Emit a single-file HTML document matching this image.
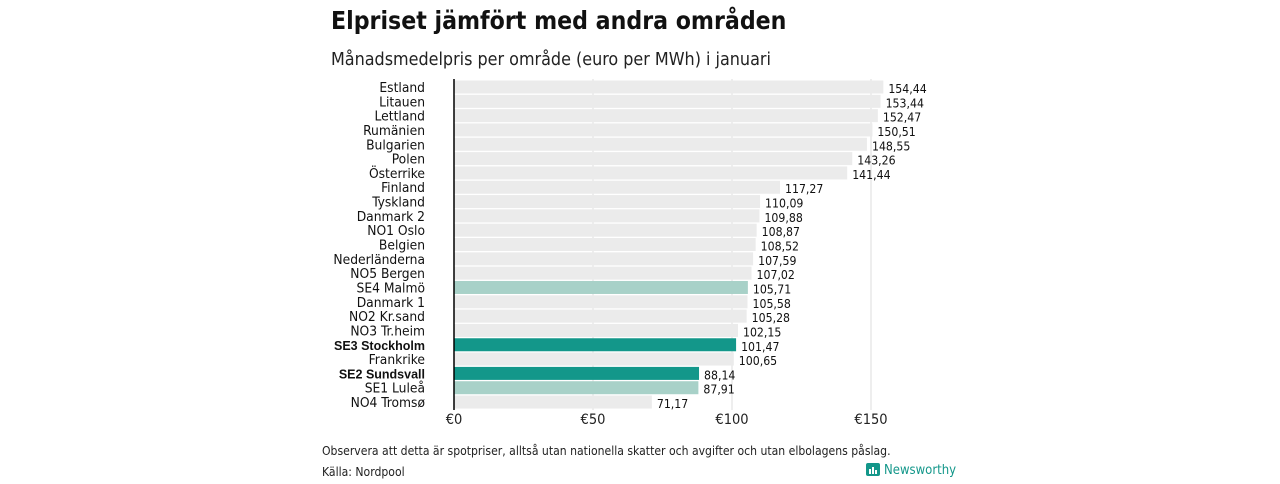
<!DOCTYPE html>
<html><head><meta charset="utf-8"><style>
body{margin:0;background:#fff;font-family:"DejaVu Sans","Liberation Sans",sans-serif;}
svg text{font-family:"DejaVu Sans Condensed","DejaVu Sans","Liberation Sans",sans-serif;}
</style></head><body>
<svg id="c" width="1280" height="480">
<text x="331" y="29" font-size="24.6" font-weight="bold" fill="#111" style="font-family:'DejaVu Sans Condensed','DejaVu Sans',sans-serif">Elpriset jämfört med andra områden</text>
<text x="331" y="65" font-size="17.8" fill="#222">Månadsmedelpris per område (euro per MWh) i januari</text>
<g id="grid"></g><g id="bars"></g>
<text x="322" y="455" font-size="12.1" fill="#222">Observera att detta är spotpriser, alltså utan nationella skatter och avgifter och utan elbolagens påslag.</text>
<text x="322" y="476" font-size="12.1" fill="#222">Källa: Nordpool</text>
<g>
<rect x="866" y="463" width="14" height="13" rx="2" fill="#13978a"/>
<rect x="869" y="469" width="2" height="5" fill="#fff"/><rect x="872" y="467" width="2" height="7" fill="#fff"/><rect x="875" y="470" width="2" height="4" fill="#fff"/>
<text x="884" y="474" font-size="13" fill="#13978a">Newsworthy</text></g>
</svg>
<script>
const categories=["Estland","Litauen","Lettland","Rumänien","Bulgarien","Polen","Österrike","Finland","Tyskland","Danmark  2","NO1 Oslo","Belgien","Nederländerna","NO5 Bergen","SE4  Malmö","Danmark  1","NO2 Kr.sand","NO3 Tr.heim","SE3 Stockholm","Frankrike","SE2 Sundsvall","SE1  Luleå","NO4 Tromsø"];
const values=[154.44,153.44,152.47,150.51,148.55,143.26,141.44,117.27,110.09,109.88,108.87,108.52,107.59,107.02,105.71,105.58,105.28,102.15,101.47,100.65,88.14,87.91,71.17];
const highlight=["","","","","","","","","","","","","","","light","","","","dark","","dark","light",""];
const ticks=[0,50,100,150];
const tickLabels=["€0","€50","€100","€150"];
const NS="http://www.w3.org/2000/svg";
const x=v=>454+v*2.78, y=i=>87+i*14.32;
function mk(t,a,p){const e=document.createElementNS(NS,t);for(const k in a)e.setAttribute(k,a[k]);p.appendChild(e);return e;}
const g=document.getElementById('grid'),b=document.getElementById('bars');
ticks.forEach((t,i)=>{
 if(t>0){const l=mk('line',{x1:x(t),x2:x(t),y1:79,y2:410,stroke:'#ddd','stroke-width':1},g);
 
 }
 const tx=mk('text',{x:x(t),y:424,'font-size':14.5,'text-anchor':'middle',fill:'#222'},g);tx.textContent=tickLabels[i];
 
 
});
categories.forEach((c,i)=>{
 const col=highlight[i]=='dark'?'#13978a':highlight[i]=='light'?'#a8d1c8':'#ebebeb';
 const r=mk('rect',{x:454,y:y(i)-6.5,width:x(values[i])-454,height:13,fill:col},b);
 
 
 const bold=highlight[i]=='dark';
 const lt=mk('text',{x:425,y:y(i)+5,'font-size':bold?12.5:13.7,'text-anchor':'end',fill:'#111','font-weight':bold?'bold':'normal'},b);
 if(bold)lt.setAttribute('style','font-family:"Liberation Sans",sans-serif');
 lt.textContent=c;
 
 
 const vt=mk('text',{x:x(values[i])+5,y:y(i)+6,'font-size':12.2,fill:'#111'},b);
 vt.textContent=values[i].toFixed(2).replace('.',',');
 
 
});
const ax=mk('line',{x1:454,x2:454,y1:79,y2:410,stroke:'#000','stroke-width':1.5},b);


</script>
</body></html>
